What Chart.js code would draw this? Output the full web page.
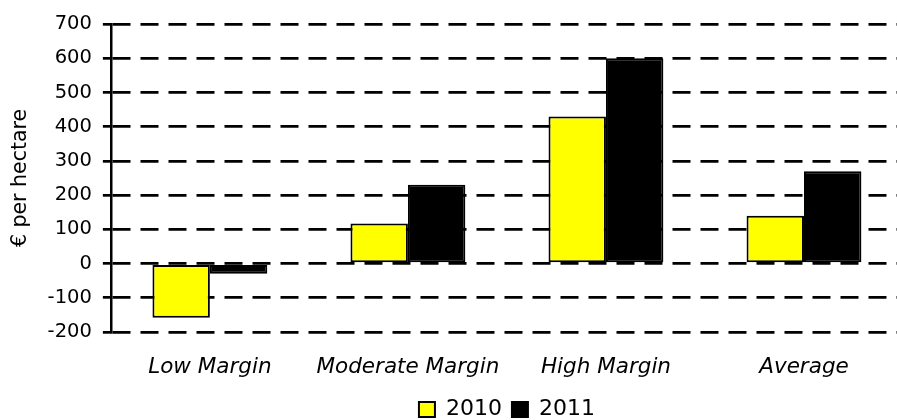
<!DOCTYPE html>
<html>
<head>
<meta charset="utf-8">
<script src="https://cdn.jsdelivr.net/npm/chart.js@4/dist/chart.umd.min.js"></script>
<style>
    html, body { margin: 0; padding: 0; overflow: hidden; background: #fff; }
</style>
</head>
<body>
<canvas id="marginChart" width="903" height="420"></canvas>
<script>
const categories = ['Low Margin', 'Moderate Margin', 'High Margin', 'Average'];
const values2010 = [-158, 117, 430, 140];
const values2011 = [-30, 230, 600, 270];
const yTicks = [-200, -100, 0, 100, 200, 300, 400, 500, 600, 700];

const ctx = document.getElementById('marginChart').getContext('2d');
const fontFamily = '"DejaVu Sans", Arial, sans-serif';

const chart = new Chart(ctx, {
    type: 'bar',
    data: {
        labels: categories,
        datasets: [{
            label: '2010',
            data: values2010,
            backgroundColor: '#ffff00',
            borderColor: '#000000',
            borderWidth: 2,
            borderSkipped: false
        }, {
            label: '2011',
            data: values2011,
            backgroundColor: '#000000',
            borderColor: '#000000',
            borderWidth: 2,
            borderSkipped: false
        }]
    },
    options: {
        responsive: false,
        animation: false,
        layout: { padding: { top: 24, left: 4, right: 0, bottom: -10.5 } },
        datasets: {
            bar: { barPercentage: 1, categoryPercentage: 0.58 }
        },
        plugins: {
            legend: {
                position: 'bottom',
                fullSize: false,
                labels: {
                    color: '#000',
                    font: { family: fontFamily, size: 22 },
                    boxWidth: 16,
                    boxHeight: 15,
                    padding: 10
                }
            },
            tooltip: { enabled: false }
        },
        scales: {
            x: {
                grid: { display: false },
                border: { display: false },
                // keep the label band tight so the legend sits close underneath
                afterFit: scale => { scale.height = 56.5; },
                ticks: {
                    color: '#000',
                    padding: 15,
                    font: { family: fontFamily, size: 21.5, style: 'italic' }
                }
            },
            y: {
                min: -200,
                max: 700,
                afterBuildTicks: axis => { axis.ticks = yTicks.map(v => ({ value: v })); },
                grid: {
                    color: '#000',
                    lineWidth: 2.7,
                    tickLength: 8,
                    tickWidth: 2.7,
                    tickBorderDash: [],
                    tickColor: '#000'
                },
                border: { display: true, color: '#000', width: 2.5, dash: [18, 10] },
                title: {
                    display: true,
                    text: '€ per hectare',
                    color: '#000',
                    font: { family: fontFamily, size: 20.5 },
                    padding: { top: 4, bottom: 4 }
                },
                ticks: {
                    color: '#000',
                    padding: 11,
                    font: { family: fontFamily, size: 19.5 }
                }
            }
        }
    }
});
</script>
</body>
</html>
